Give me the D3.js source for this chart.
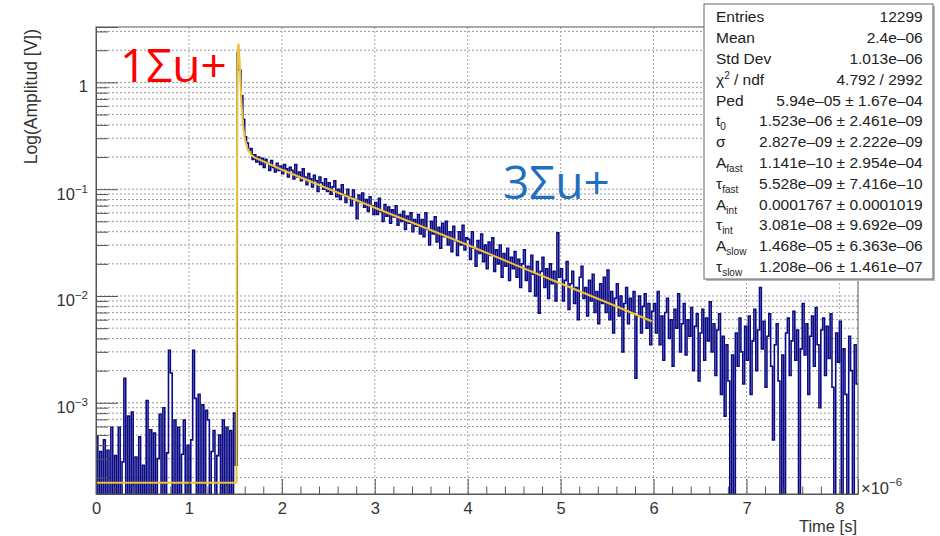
<!DOCTYPE html>
<html>
<head>
<meta charset="utf-8">
<script src="https://cdn.jsdelivr.net/npm/d3@7"></script>
<style>
  body { margin: 0; background: #fff; }
  svg { display: block; }
  text { font-family: "Liberation Sans", Arial, sans-serif; fill: #222; }
</style>
</head>
<body>
<svg width="940" height="536"></svg>
<script>
// histogram: bin width in µs, amplitude per bin in V (0 = below axis)
var binWidth = 0.02;
var amplitude = [
  // 0.00 - 0.48
  4.8e-4,0,3.5e-4,0,4.5e-4,0,3.6e-4,0,5.9e-4,0,3.2e-4,0,5.9e-4,0,2.8e-4,1.7e-3,0,7.5e-4,0,8.2e-4,0,3.1e-4,0,4.8e-4,0,
  // 0.50 - 0.98
  2.6e-4,0,1.05e-3,0,5.6e-4,0,5.2e-4,0,3.0e-4,7.8e-4,0,9.0e-4,0,3.4e-4,3.1e-3,1.9e-3,0,6.9e-4,0,5.9e-4,0,3.3e-4,6.9e-4,0,4.0e-4,
  // 1.00 - 1.48
  0,4.5e-4,3.1e-3,1.1e-3,0,1.2e-3,0,9.6e-4,0,8.5e-4,6.9e-4,0,3.5e-4,5.5e-4,0,3.2e-4,5.0e-4,0,6.9e-4,0,5.9e-4,0,5.5e-4,0,8.0e-4,
  // 1.50 - 1.98
  2.6e-4,1.9,1.3,0.75,0.45,0.31,0.27,0.23,0.24,0.19,0.21,0.18,0.20,0.17,0.195,0.16,0.19,0.175,0.15,0.185,0.16,0.145,0.175,0.15,0.165,
  // 2.00 - 2.48
  .14,.17,.155,.13,.16,.15,.125,.17,.13,.145,.12,.155,.13,.11,.14,.125,.105,.135,.12,.095,.13,.115,.10,.125,.095,
  // 2.50 - 2.98
  .115,.09,.105,.12,.085,.10,.08,.11,.088,.075,.10,.085,.07,.098,.08,.053,.088,.075,.092,.068,.08,.062,.085,.07,.058,
  // 3.00 - 3.48
  .075,.058,.082,.062,.05,.072,.056,.068,.048,.064,.055,.07,.046,.058,.05,.062,.042,.056,.048,.06,.04,.052,.045,.058,.038,
  // 3.50 - 3.98
  .052,.036,.06,.042,.03,.05,.038,.055,.032,.044,.028,.048,.036,.05,.03,.04,.026,.045,.033,.024,.04,.03,.046,.027,.035,
  // 4.00 - 4.48
  .034,.022,.04,.028,.019,.033,.025,.038,.021,.03,.018,.032,.024,.035,.017,.027,.02,.03,.015,.025,.019,.028,.014,.023,.018,
  // 4.50 - 4.98
  .026,.015,.022,.012,.02,.027,.014,.019,.011,.024,.016,.01,.021,.0069,.017,.023,.012,.018,.0095,.02,.013,.017,.009,.039,.015,
  // 5.00 - 5.48
  .018,.009,.014,.021,.0075,.013,.017,.0085,.012,.006,.015,.019,.0095,.012,.0065,.014,.009,.016,.007,.011,.0055,.013,.0085,.015,.007,
  // 5.50 - 5.98
  .0175,.006,.011,.0045,.0095,.013,.0065,.01,.003,.0085,.012,.0055,.0095,.007,.011,.0017,.0065,.01,.0045,.008,.0105,.005,.0085,.0035,.0072,
  // 6.00 - 6.48
  .0085,.0045,.011,.0035,.0065,.0025,.007,.0095,.004,.006,.0022,.0075,.005,.0105,.003,.0055,.0085,.0028,.006,.0042,.0078,.002,.0052,.0068,.0016,
  // 6.50 - 6.98
  .0045,.0075,.0025,.0062,.0038,.0088,.003,.0055,.0018,.0048,.0068,.0012,.0042,.00075,.0035,.0016,0,.0028,0,.0045,.0022,.0062,.003,.0015,.0052,
  // 7.00 - 7.48
  .0025,.0065,.0012,.0038,.0075,.002,.0048,.012,.0032,.0058,.0014,.0042,.0068,.0022,.00045,.0035,.0055,.0016,0,.0028,0,.0045,.0062,.0018,.0038,
  // 7.50 - 7.98
  .0072,.0025,.0048,0,.0032,.0085,.0028,.0055,.0012,.0042,.0065,.0022,.0078,.0035,.0009,.0048,.0062,.0018,.0052,.0026,.0068,.0014,0,.0045,.0024,
  // 8.00 - 8.18
  .0058,0,.0032,.0012,0,.0042,.002,0,.0035,.0015
];

// fit curve
var fitTime = [0, 1.512, 1.515, 1.52, 1.527, 1.535, 1.545, 1.555, 1.565, 1.58, 1.6, 1.63, 1.67, 1.7, 2, 2.5, 3, 3.5, 4, 4.5, 5, 5.5, 5.98];
var fitAmp  = [1.78e-4, 1.78e-4, 0.02, 0.8, 2.1, 2.3, 1.6, 1.0, 0.65, 0.42, 0.3, 0.24, 0.21, 0.2, 0.152, 0.101, 0.067, 0.045, 0.030, 0.0198, 0.0131, 0.0087, 0.0058];

var xTicks = [0, 1, 2, 3, 4, 5, 6, 7, 8];
var yDecades = [1e-3, 1e-2, 1e-1, 1];
var yTickLabels = [["10", "\u22123"], ["10", "\u22122"], ["10", "\u22121"], ["1", ""]];

var statLabels = ["Entries", "Mean", "Std Dev", "\u03c7^2 / ndf", "Ped", "t_0", "\u03c3",
                  "A_fast", "\u03c4_fast", "A_int", "\u03c4_int", "A_slow", "\u03c4_slow"];
var statValues = ["12299", "2.4e\u201306", "1.013e\u201306", "4.792 / 2992",
                  "5.94e\u201305 \u00b1 1.67e\u201304", "1.523e\u201306 \u00b1 2.461e\u201309",
                  "2.827e\u201309 \u00b1 2.222e\u201309", "1.141e\u201310 \u00b1 2.954e\u201304",
                  "5.528e\u201309 \u00b1 7.416e\u201310", "0.0001767 \u00b1 0.0001019",
                  "3.081e\u201308 \u00b1 9.692e\u201309", "1.468e\u201305 \u00b1 6.363e\u201306",
                  "1.208e\u201306 \u00b1 1.461e\u201307"];

var frame = {left: 96, right: 858, top: 27, bottom: 494};
var yMin = 1.4e-4, yMax = 3.3;

var svg = d3.select("svg");

var x = d3.scaleLinear().domain([0, 8.2]).range([frame.left, frame.right]);
var y = d3.scaleLog().domain([yMin, yMax]).range([frame.bottom, frame.top]);

function yc(v) { return y(v > yMin ? v : yMin); }

svg.append("defs").append("clipPath").attr("id", "plotclip")
  .append("rect")
  .attr("x", frame.left).attr("y", frame.top)
  .attr("width", frame.right - frame.left).attr("height", frame.bottom - frame.top);

// grid
var allY = y.ticks();
svg.append("g").selectAll("line").data(allY).enter().append("line")
  .attr("x1", frame.left).attr("x2", frame.right)
  .attr("y1", d => y(d)).attr("y2", d => y(d))
  .attr("stroke", "#999").attr("stroke-dasharray", "2,2");
svg.append("g").selectAll("line").data(xTicks.slice(1)).enter().append("line")
  .attr("x1", d => x(d)).attr("x2", d => x(d))
  .attr("y1", frame.top).attr("y2", frame.bottom)
  .attr("stroke", "#aaa").attr("stroke-dasharray", "2,2");

// histogram as steps
var pts = [];
amplitude.forEach(function (v, i) {
  pts.push([i * binWidth, v]);
  pts.push([(i + 1) * binWidth, v]);
});
var stepLine = d3.line().x(d => x(d[0])).y(d => yc(d[1]));
svg.append("path")
  .attr("clip-path", "url(#plotclip)")
  .attr("d", stepLine(pts))
  .attr("fill", "none")
  .attr("stroke", "#0b0b85")
  .attr("stroke-width", 1.6);

// fit
var fitLine = d3.line().x(d => x(d[0])).y(d => yc(d[1]));
svg.append("path")
  .attr("clip-path", "url(#plotclip)")
  .attr("d", fitLine(d3.zip(fitTime, fitAmp)))
  .attr("fill", "none")
  .attr("stroke", "#f0c232")
  .attr("stroke-width", 2);

// frame
svg.append("rect")
  .attr("x", frame.left).attr("y", frame.top)
  .attr("width", frame.right - frame.left).attr("height", frame.bottom - frame.top)
  .attr("fill", "none").attr("stroke", "#555");

// y axis (ticks point inward)
var minorY = allY.filter(d => yDecades.indexOf(d) < 0);
svg.append("g").attr("transform", "translate(" + frame.left + ",0)")
  .call(d3.axisLeft(y).tickValues(minorY).tickSize(-12).tickFormat(""))
  .call(g => g.select(".domain").remove())
  .selectAll("line").attr("stroke", "#555");
var yAx = svg.append("g").attr("transform", "translate(" + frame.left + ",0)")
  .call(d3.axisLeft(y).tickValues(yDecades).tickSize(-22).tickFormat(""))
  .call(g => g.select(".domain").attr("stroke", "#555"));
yAx.selectAll("line").attr("stroke", "#555");
yAx.selectAll(".tick").each(function (d, i) {
  var lab = yTickLabels[i];
  var t = d3.select(this).append("text")
    .attr("x", -8).attr("y", lab[1] ? 10 : 9)
    .attr("text-anchor", "end")
    .style("font-size", "16.5px").style("fill", "#333");
  t.append("tspan").text(lab[0]);
  if (lab[1]) t.append("tspan").attr("dy", -7).style("font-size", "11.5px").text(lab[1]);
});

// x axis
var minorX = x.ticks(41).filter(d => Math.abs(d - Math.round(d)) > 1e-6);
svg.append("g").attr("transform", "translate(0," + frame.bottom + ")")
  .call(d3.axisBottom(x).tickValues(minorX).tickSize(-7.5).tickFormat(""))
  .call(g => g.select(".domain").remove())
  .selectAll("line").attr("stroke", "#555");
var xAx = svg.append("g").attr("transform", "translate(0," + frame.bottom + ")")
  .call(d3.axisBottom(x).tickValues(xTicks).tickSize(-15).tickPadding(8).tickFormat(d3.format("d")))
  .call(g => g.select(".domain").attr("stroke", "#555"));
xAx.selectAll("line").attr("stroke", "#555");
xAx.selectAll("text").style("font-size", "16.5px").style("fill", "#333")
  .style("font-family", "'Liberation Sans', Arial, sans-serif");

// exponent and axis titles
var expo = svg.append("text").attr("x", 861).attr("y", 494).style("font-size", "16.5px").style("fill", "#333");
expo.append("tspan").text("\u00d710");
expo.append("tspan").attr("dy", -8).style("font-size", "11.5px").text("\u22126");

svg.append("text").attr("x", 857).attr("y", 532).attr("text-anchor", "end")
  .style("font-size", "16.5px").style("fill", "#333").text("Time [s]");
svg.append("text")
  .attr("transform", "translate(37,29) rotate(-90)")
  .attr("text-anchor", "end")
  .style("font-size", "17.5px").style("fill", "#333").text("Log(Amplitud [V])");

// stats box
var box = {x: 704, y: 4, w: 229, h: 275};
svg.append("rect").attr("x", box.x + 2).attr("y", box.y + 2).attr("width", box.w).attr("height", box.h).attr("fill", "#bbb");
svg.append("rect").attr("x", box.x).attr("y", box.y).attr("width", box.w).attr("height", box.h)
  .attr("fill", "#fff").attr("stroke", "#666");
var rowY = d3.scaleLinear().domain([0, statLabels.length - 1]).range([22.3, 272]);
statLabels.forEach(function (lab, i) {
  var t = svg.append("text").attr("x", 716).attr("y", rowY(i)).style("font-size", "15.5px");
  var m = lab.match(/^(.)([_^])(\w+)(.*)$/);
  if (m) {
    t.append("tspan").text(m[1]);
    if (m[2] === "_") {
      t.append("tspan").attr("dy", 4).style("font-size", "10px").text(m[3]);
    } else {
      t.append("tspan").attr("dy", -6).style("font-size", "10px").text(m[3]);
      t.append("tspan").attr("dy", 6).text(m[4]);
    }
  } else {
    t.text(lab);
  }
  svg.append("text").attr("x", 922.7).attr("y", rowY(i)).attr("text-anchor", "end")
    .style("font-size", "15.5px").text(statValues[i]);
});

// state annotations
svg.append("text").attr("x", 120).attr("y", 82)
  .style("font-family", "'Open Sans', 'Noto Sans', sans-serif").style("font-size", "46px")
  .style("fill", "#ff0000").text("1\u03a3u+");
svg.append("text").attr("x", 503).attr("y", 199)
  .style("font-family", "'Open Sans', 'Noto Sans', sans-serif").style("font-size", "46px")
  .style("fill", "#1f70c1").text("3\u03a3u+");
</script>
</body>
</html>
